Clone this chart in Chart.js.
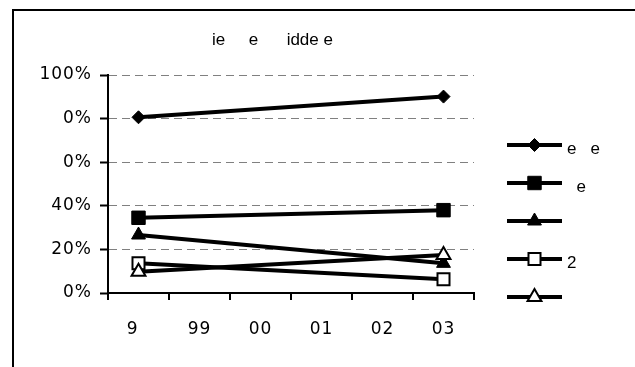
<!DOCTYPE html>
<html>
<head>
<meta charset="utf-8">
<script src="https://cdn.jsdelivr.net/npm/chart.js"></script>
<style>
  html, body { margin: 0; padding: 0; background: #fff; }
  #wrap { position: relative; width: 635px; height: 367px; overflow: hidden; }
  #frame { position: absolute; left: 12px; top: 9px; width: 700px; height: 400px;
           border-top: 2px solid #000; border-left: 2px solid #000; }
  #lineChart { position: absolute; left: 0; top: 0; }
</style>
</head>
<body>
<div id="wrap">
  <div id="frame"></div>
  <canvas id="lineChart" width="635" height="367"></canvas>
</div>
<script>
// data (glyphs that the original lost are left out)
var titleText = 'ie     e      idde e';
var categories = ['9\u2007', '99', '00', '01', '02', '03'];
var yTickLabels = ['0%', '20%', '40%', '0%', '0%', '100%'];
var seriesNames = ['e   e', '  e', '', '2', ''];
var serie1 = [80.6, null, null, null, null, 90.1];
var serie2 = [34.5, null, null, null, null, 38.0];
var serie3 = [26.6, null, null, null, null, 13.6];
var serie4 = [13.6, null, null, null, null, 6.3];
var serie5 = [9.8, null, null, null, null, 17.4];

var markers = [
  { style: 'rectRot', radius: 6.5, fill: '#000', width: 1 },
  { style: 'rect', radius: 9.5, fill: '#000', width: 1 },
  { style: 'triangle', radius: 8, fill: '#000', width: 1 },
  { style: 'rect', radius: 8.5, fill: '#fff', width: 2 },
  { style: 'triangle', radius: 8, fill: '#fff', width: 2 }
];

document.addEventListener('DOMContentLoaded', function () {
  var values = [serie1, serie2, serie3, serie4, serie5];
  var datasets = values.map(function (v, i) {
    return {
      label: seriesNames[i],
      data: v,
      spanGaps: true,
      borderColor: '#000',
      borderWidth: 4,
      pointStyle: markers[i].style,
      pointRadius: markers[i].radius,
      pointHoverRadius: markers[i].radius,
      pointBackgroundColor: markers[i].fill,
      pointBorderColor: '#000',
      pointBorderWidth: markers[i].width,
      order: 4 - i
    };
  });

  // the axis font of the original is wide, so space the letters out a little
  var spacing = {
    id: 'spacing',
    beforeUpdate: function (chart) { chart.ctx.letterSpacing = '1px'; },
    beforeDraw: function (chart) { chart.ctx.letterSpacing = '1px'; }
  };

  // title and legend drawn at fixed spots, like the original
  var extras = {
    id: 'extras',
    afterDraw: function (chart) {
      var ctx = chart.ctx;
      ctx.save();
      ctx.letterSpacing = '0px';
      ctx.fillStyle = '#000';
      ctx.font = '17px "Liberation Sans", Arial, sans-serif';
      ctx.textBaseline = 'middle';
      ctx.textAlign = 'left';
      ctx.fillText(titleText, 212, 40);

      chart.data.datasets.forEach(function (ds, i) {
        var y = 145 + i * 38;
        ctx.strokeStyle = '#000';
        ctx.lineWidth = 4;
        ctx.beginPath();
        ctx.moveTo(507, y);
        ctx.lineTo(562, y);
        ctx.stroke();
        ctx.fillStyle = markers[i].fill;
        ctx.lineWidth = markers[i].width;
        Chart.helpers.drawPoint(ctx, {
          pointStyle: markers[i].style,
          radius: markers[i].radius,
          rotation: 0,
          borderWidth: markers[i].width
        }, 534.5, y);
        ctx.fillStyle = '#000';
        ctx.fillText(ds.label, 567, y + 4);
      });
      ctx.restore();
    }
  };

  var axisFont = { family: '"DejaVu Sans", Verdana, sans-serif', size: 17 };

  var config = {
    type: 'line',
    data: { labels: categories, datasets: datasets },
    options: {
      responsive: false,
      animation: false,
      layout: { padding: { left: 0, top: 75, right: 161, bottom: 0 } },
      plugins: { legend: { display: false }, title: { display: false }, tooltip: { enabled: false } },
      scales: {
        x: {
          offset: true,
          grid: { display: true, drawOnChartArea: false, offset: true, color: '#000',
                  lineWidth: 2, tickLength: 7 },
          border: { color: '#000', width: 2 },
          ticks: { color: '#000', padding: 19, maxRotation: 0, font: axisFont },
          afterFit: function (scale) { scale.height = 74; }
        },
        y: {
          min: 0,
          max: 100,
          grid: { color: '#808080', lineWidth: 1, tickColor: '#000', tickWidth: 2, tickLength: 8 },
          border: { color: '#000', width: 2, dash: [8, 5] },
          ticks: {
            stepSize: 20, color: '#000', padding: 8, font: axisFont,
            callback: function (v, i) { return yTickLabels[i]; }
          },
          afterFit: function (scale) { scale.width = 108; }
        }
      }
    },
    plugins: [spacing, extras]
  };

  var ctx = document.getElementById('lineChart').getContext('2d');
  new Chart(ctx, config);
});
</script>
</body>
</html>
